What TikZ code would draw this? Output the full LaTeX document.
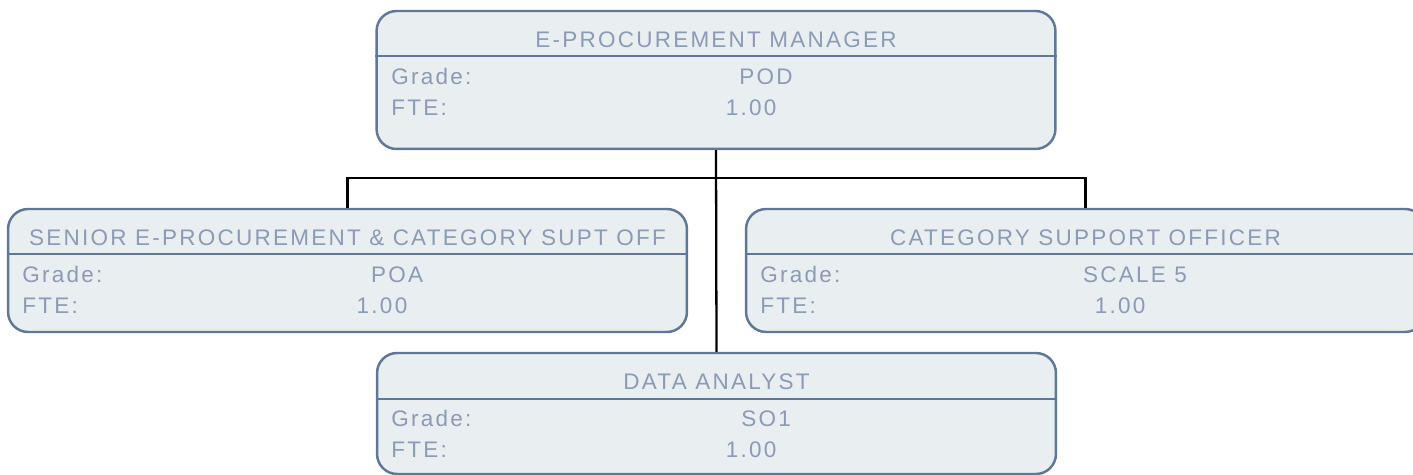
\documentclass[tikz,border=0pt]{standalone}
\usepackage{fontspec}
\newfontfamily\boxfont[LetterSpace=10]{Liberation Sans}
\usepackage{tikz}
\usetikzlibrary{positioning, calc}
\definecolor{boxedge}{RGB}{95,119,153}
\definecolor{boxfill}{RGB}{233,238,241}
\definecolor{boxtext}{RGB}{138,155,181}
\tikzset{
  rolebox/.style={rectangle, draw=boxedge, fill=boxfill,
    minimum width=13.58cm, rounded corners=0.4cm, line width=1.4pt},
  sepline/.style={draw=boxedge, line width=1.3pt},
  roletitle/.style={font=\boxfont\fontsize{12.8}{15}\selectfont,
    text=boxtext, inner sep=0pt, anchor=base},
  fieldname/.style={roletitle, anchor=base west},
  fieldval/.style={roletitle, anchor=base},
  orgline/.style={line width=1.3pt, color=black}
}

\begin{document}
\begin{tikzpicture}[x=0.02cm, y=-0.02cm]
  \useasboundingbox (0,0) rectangle (1413,475);

  % E-Procurement Manager
  \node[rolebox, minimum height=2.76cm] (mgr) at (716,80) {};
  \draw[sepline] (mgr.west |- 0,56) -- (mgr.east |- 0,56);
  \node[roletitle] (mgrT) at (716,48) {E-PROCUREMENT MANAGER};
  \node[fieldname] (mgrG) at (391,85) {Grade:};
  \node[fieldval] (mgrGv) at (766,85) {POD};
  \node[fieldname] (mgrF) at (391,116) {FTE:};
  \node[fieldval] (mgrFv) at (751,116) {1.00};

  % Senior E-Procurement & Category Supt Off
  \node[rolebox, minimum height=2.46cm] (senior) at (347.5,270.5) {};
  \draw[sepline] (senior.west |- 0,254) -- (senior.east |- 0,254);
  \node[roletitle] (seniorT) at (347.5,246) {SENIOR E-PROCUREMENT \& CATEGORY SUPT OFF};
  \node[fieldname] (seniorG) at (22,283) {Grade:};
  \node[fieldval] (seniorGv) at (397,283) {POA};
  \node[fieldname] (seniorF) at (22,314) {FTE:};
  \node[fieldval] (seniorFv) at (382,314) {1.00};

  % Category Support Officer
  \node[rolebox, minimum height=2.46cm] (cso) at (1085.5,270.5) {};
  \draw[sepline] (cso.west |- 0,254) -- (cso.east |- 0,254);
  \node[roletitle] (csoT) at (1085.5,246) {CATEGORY SUPPORT OFFICER};
  \node[fieldname] (csoG) at (760,283) {Grade:};
  \node[fieldval] (csoGv) at (1135,283) {SCALE 5};
  \node[fieldname] (csoF) at (760,314) {FTE:};
  \node[fieldval] (csoFv) at (1120,314) {1.00};

  % Data Analyst
  \node[rolebox, minimum height=2.42cm] (analyst) at (716.5,413.5) {};
  \draw[sepline] (analyst.west |- 0,399) -- (analyst.east |- 0,399);
  \node[roletitle] (analystT) at (716.5,390) {DATA ANALYST};
  \node[fieldname] (analystG) at (391,427) {Grade:};
  \node[fieldval] (analystGv) at (766,427) {SO1};
  \node[fieldname] (analystF) at (391,458) {FTE:};
  \node[fieldval] (analystFv) at (751,458) {1.00};

  % Reporting lines
  \draw[orgline] (mgr.south) -- (analyst.north);
  \draw[orgline] (senior.north) -- ++(0,-30) -| (cso.north);
\end{tikzpicture}
\end{document}
